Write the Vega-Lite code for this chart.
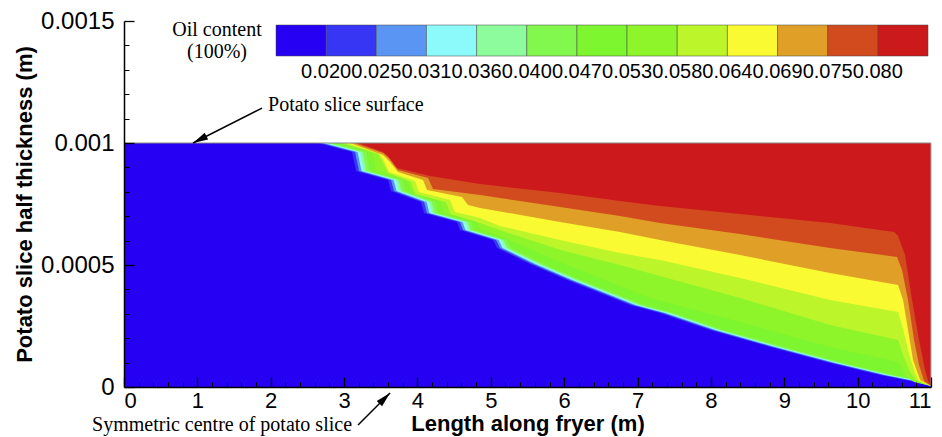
{
  "$schema": "https://vega.github.io/schema/vega-lite/v6.json",
  "width": 807,
  "height": 366,
  "autosize": {"type": "none"},
  "padding": {"left": 124, "top": 21, "right": 11, "bottom": 50},
  "background": "white",
  "config": {"view": {"stroke": null}, "axis": {"grid": false}},
  "resolve": {"axis": {"x": "independent", "y": "independent"}},
  "datasets": {
    "contours": [
      {"level": 0, "x": 0, "y": 0}, {"level": 0, "x": 11, "y": 0},
      {"level": 1, "x": 2.645, "y": 0.001}, {"level": 1, "x": 3.108, "y": 0.000963}, {"level": 1, "x": 3.163, "y": 0.000885}, {"level": 1, "x": 3.599, "y": 0.000848}, {"level": 1, "x": 3.640, "y": 0.000803}, {"level": 1, "x": 4.049, "y": 0.000758}, {"level": 1, "x": 4.089, "y": 0.000713}, {"level": 1, "x": 4.539, "y": 0.000676}, {"level": 1, "x": 4.580, "y": 0.000643}, {"level": 1, "x": 5.030, "y": 0.000602}, {"level": 1, "x": 5.085, "y": 0.000570}, {"level": 1, "x": 5.534, "y": 0.000504}, {"level": 1, "x": 6.039, "y": 0.000439}, {"level": 1, "x": 6.489, "y": 0.000385}, {"level": 1, "x": 6.898, "y": 0.000336}, {"level": 1, "x": 7.306, "y": 0.000303}, {"level": 1, "x": 7.988, "y": 0.000234}, {"level": 1, "x": 8.806, "y": 0.000164}, {"level": 1, "x": 9.624, "y": 0.000098}, {"level": 1, "x": 10.305, "y": 0.000049}, {"level": 1, "x": 10.714, "y": 0.000025}, {"level": 1, "x": 11, "y": 0.000004},
      {"level": 2, "x": 2.686, "y": 0.001}, {"level": 2, "x": 3.149, "y": 0.000963}, {"level": 2, "x": 3.204, "y": 0.000885}, {"level": 2, "x": 3.640, "y": 0.000848}, {"level": 2, "x": 3.681, "y": 0.000803}, {"level": 2, "x": 4.090, "y": 0.000758}, {"level": 2, "x": 4.130, "y": 0.000713}, {"level": 2, "x": 4.580, "y": 0.000676}, {"level": 2, "x": 4.621, "y": 0.000643}, {"level": 2, "x": 5.071, "y": 0.000602}, {"level": 2, "x": 5.126, "y": 0.000570}, {"level": 2, "x": 5.575, "y": 0.000504}, {"level": 2, "x": 6.080, "y": 0.000439}, {"level": 2, "x": 6.530, "y": 0.000385}, {"level": 2, "x": 6.939, "y": 0.000336}, {"level": 2, "x": 7.347, "y": 0.000303}, {"level": 2, "x": 8.029, "y": 0.000234}, {"level": 2, "x": 8.847, "y": 0.000164}, {"level": 2, "x": 9.665, "y": 0.000098}, {"level": 2, "x": 10.346, "y": 0.000049}, {"level": 2, "x": 10.755, "y": 0.000025}, {"level": 2, "x": 11, "y": 0.000004},
      {"level": 3, "x": 2.720, "y": 0.001}, {"level": 3, "x": 3.183, "y": 0.000963}, {"level": 3, "x": 3.238, "y": 0.000885}, {"level": 3, "x": 3.674, "y": 0.000848}, {"level": 3, "x": 3.715, "y": 0.000803}, {"level": 3, "x": 4.124, "y": 0.000758}, {"level": 3, "x": 4.164, "y": 0.000713}, {"level": 3, "x": 4.614, "y": 0.000676}, {"level": 3, "x": 4.655, "y": 0.000643}, {"level": 3, "x": 5.105, "y": 0.000602}, {"level": 3, "x": 5.160, "y": 0.000570}, {"level": 3, "x": 5.609, "y": 0.000504}, {"level": 3, "x": 6.114, "y": 0.000439}, {"level": 3, "x": 6.564, "y": 0.000385}, {"level": 3, "x": 6.973, "y": 0.000336}, {"level": 3, "x": 7.381, "y": 0.000303}, {"level": 3, "x": 8.063, "y": 0.000234}, {"level": 3, "x": 8.881, "y": 0.000164}, {"level": 3, "x": 9.699, "y": 0.000098}, {"level": 3, "x": 10.380, "y": 0.000049}, {"level": 3, "x": 10.789, "y": 0.000025}, {"level": 3, "x": 11, "y": 0.000004},
      {"level": 4, "x": 2.754, "y": 0.001}, {"level": 4, "x": 3.217, "y": 0.000963}, {"level": 4, "x": 3.272, "y": 0.000885}, {"level": 4, "x": 3.708, "y": 0.000848}, {"level": 4, "x": 3.749, "y": 0.000803}, {"level": 4, "x": 4.158, "y": 0.000758}, {"level": 4, "x": 4.198, "y": 0.000713}, {"level": 4, "x": 4.648, "y": 0.000676}, {"level": 4, "x": 4.689, "y": 0.000643}, {"level": 4, "x": 5.139, "y": 0.000602}, {"level": 4, "x": 5.194, "y": 0.000570}, {"level": 4, "x": 5.643, "y": 0.000504}, {"level": 4, "x": 6.148, "y": 0.000439}, {"level": 4, "x": 6.598, "y": 0.000385}, {"level": 4, "x": 7.007, "y": 0.000336}, {"level": 4, "x": 7.415, "y": 0.000303}, {"level": 4, "x": 8.097, "y": 0.000234}, {"level": 4, "x": 8.915, "y": 0.000164}, {"level": 4, "x": 9.733, "y": 0.000098}, {"level": 4, "x": 10.414, "y": 0.000049}, {"level": 4, "x": 10.823, "y": 0.000025}, {"level": 4, "x": 11, "y": 0.000004},
      {"level": 5, "x": 2.788, "y": 0.001}, {"level": 5, "x": 3.251, "y": 0.000963}, {"level": 5, "x": 3.306, "y": 0.000885}, {"level": 5, "x": 3.742, "y": 0.000848}, {"level": 5, "x": 3.783, "y": 0.000803}, {"level": 5, "x": 4.192, "y": 0.000758}, {"level": 5, "x": 4.232, "y": 0.000713}, {"level": 5, "x": 4.682, "y": 0.000676}, {"level": 5, "x": 4.723, "y": 0.000643}, {"level": 5, "x": 5.173, "y": 0.000602}, {"level": 5, "x": 5.228, "y": 0.000570}, {"level": 5, "x": 5.677, "y": 0.000504}, {"level": 5, "x": 6.182, "y": 0.000439}, {"level": 5, "x": 6.632, "y": 0.000385}, {"level": 5, "x": 7.041, "y": 0.000336}, {"level": 5, "x": 7.449, "y": 0.000303}, {"level": 5, "x": 8.131, "y": 0.000234}, {"level": 5, "x": 8.949, "y": 0.000164}, {"level": 5, "x": 9.767, "y": 0.000098}, {"level": 5, "x": 10.448, "y": 0.000049}, {"level": 5, "x": 10.857, "y": 0.000025}, {"level": 5, "x": 11, "y": 0.000004},
      {"level": 6, "x": 2.836, "y": 0.001}, {"level": 6, "x": 3.299, "y": 0.000963}, {"level": 6, "x": 3.354, "y": 0.000885}, {"level": 6, "x": 3.790, "y": 0.000848}, {"level": 6, "x": 3.831, "y": 0.000803}, {"level": 6, "x": 4.240, "y": 0.000758}, {"level": 6, "x": 4.280, "y": 0.000713}, {"level": 6, "x": 4.730, "y": 0.000676}, {"level": 6, "x": 4.771, "y": 0.000643}, {"level": 6, "x": 5.221, "y": 0.000602}, {"level": 6, "x": 5.276, "y": 0.000570}, {"level": 6, "x": 5.725, "y": 0.000504}, {"level": 6, "x": 6.230, "y": 0.000439}, {"level": 6, "x": 6.680, "y": 0.000385}, {"level": 6, "x": 7.089, "y": 0.000336}, {"level": 6, "x": 7.497, "y": 0.000303}, {"level": 6, "x": 8.179, "y": 0.000234}, {"level": 6, "x": 8.997, "y": 0.000164}, {"level": 6, "x": 9.815, "y": 0.000098}, {"level": 6, "x": 10.496, "y": 0.000049}, {"level": 6, "x": 10.905, "y": 0.000025}, {"level": 6, "x": 11, "y": 0.000004},
      {"level": 7, "x": 2.917, "y": 0.001}, {"level": 7, "x": 3.381, "y": 0.000963}, {"level": 7, "x": 3.435, "y": 0.000885}, {"level": 7, "x": 3.871, "y": 0.000848}, {"level": 7, "x": 3.912, "y": 0.000803}, {"level": 7, "x": 4.321, "y": 0.000758}, {"level": 7, "x": 4.362, "y": 0.000713}, {"level": 7, "x": 4.812, "y": 0.000676}, {"level": 7, "x": 4.853, "y": 0.000648}, {"level": 7, "x": 5.125, "y": 0.000619}, {"level": 7, "x": 5.943, "y": 0.000512}, {"level": 7, "x": 7.170, "y": 0.000365}, {"level": 7, "x": 8.397, "y": 0.000266}, {"level": 7, "x": 9.624, "y": 0.000164}, {"level": 7, "x": 10.551, "y": 0.000102}, {"level": 7, "x": 10.646, "y": 0.000049}, {"level": 7, "x": 10.769, "y": 0.000021}, {"level": 7, "x": 11, "y": 0.000004},
      {"level": 8, "x": 2.972, "y": 0.001}, {"level": 8, "x": 3.462, "y": 0.000955}, {"level": 8, "x": 3.517, "y": 0.000926}, {"level": 8, "x": 3.599, "y": 0.000877}, {"level": 8, "x": 3.912, "y": 0.000840}, {"level": 8, "x": 3.967, "y": 0.000791}, {"level": 8, "x": 4.389, "y": 0.000758}, {"level": 8, "x": 4.457, "y": 0.000709}, {"level": 8, "x": 4.853, "y": 0.000672}, {"level": 8, "x": 5.125, "y": 0.000643}, {"level": 8, "x": 5.943, "y": 0.000562}, {"level": 8, "x": 6.761, "y": 0.000500}, {"level": 8, "x": 7.306, "y": 0.000455}, {"level": 8, "x": 8.397, "y": 0.000365}, {"level": 8, "x": 9.624, "y": 0.000254}, {"level": 8, "x": 10.551, "y": 0.000193}, {"level": 8, "x": 10.619, "y": 0.000131}, {"level": 8, "x": 10.714, "y": 0.000061}, {"level": 8, "x": 10.796, "y": 0.000029}, {"level": 8, "x": 11, "y": 0.000004},
      {"level": 9, "x": 3.026, "y": 0.001}, {"level": 9, "x": 3.462, "y": 0.000959}, {"level": 9, "x": 3.531, "y": 0.000934}, {"level": 9, "x": 3.612, "y": 0.000881}, {"level": 9, "x": 3.967, "y": 0.000844}, {"level": 9, "x": 4.021, "y": 0.000799}, {"level": 9, "x": 4.444, "y": 0.000766}, {"level": 9, "x": 4.512, "y": 0.000717}, {"level": 9, "x": 4.853, "y": 0.000693}, {"level": 9, "x": 5.125, "y": 0.000660}, {"level": 9, "x": 5.943, "y": 0.000602}, {"level": 9, "x": 6.761, "y": 0.000549}, {"level": 9, "x": 7.306, "y": 0.000520}, {"level": 9, "x": 8.397, "y": 0.000447}, {"level": 9, "x": 9.624, "y": 0.000357}, {"level": 9, "x": 10.551, "y": 0.000307}, {"level": 9, "x": 10.605, "y": 0.000254}, {"level": 9, "x": 10.687, "y": 0.000152}, {"level": 9, "x": 10.769, "y": 0.000070}, {"level": 9, "x": 10.837, "y": 0.000025}, {"level": 9, "x": 11, "y": 0.000004},
      {"level": 10, "x": 3.081, "y": 0.001}, {"level": 10, "x": 3.531, "y": 0.000951}, {"level": 10, "x": 3.626, "y": 0.000922}, {"level": 10, "x": 3.735, "y": 0.000881}, {"level": 10, "x": 4.076, "y": 0.000848}, {"level": 10, "x": 4.130, "y": 0.000807}, {"level": 10, "x": 4.607, "y": 0.000779}, {"level": 10, "x": 4.689, "y": 0.000746}, {"level": 10, "x": 4.853, "y": 0.000734}, {"level": 10, "x": 5.943, "y": 0.000676}, {"level": 10, "x": 6.761, "y": 0.000635}, {"level": 10, "x": 7.306, "y": 0.000602}, {"level": 10, "x": 8.397, "y": 0.000541}, {"level": 10, "x": 9.624, "y": 0.000467}, {"level": 10, "x": 10.551, "y": 0.000418}, {"level": 10, "x": 10.619, "y": 0.000357}, {"level": 10, "x": 10.687, "y": 0.000234}, {"level": 10, "x": 10.755, "y": 0.000111}, {"level": 10, "x": 10.851, "y": 0.000029}, {"level": 10, "x": 11, "y": 0.000004},
      {"level": 11, "x": 3.135, "y": 0.001}, {"level": 11, "x": 3.531, "y": 0.000959}, {"level": 11, "x": 3.612, "y": 0.000938}, {"level": 11, "x": 3.735, "y": 0.000889}, {"level": 11, "x": 4.144, "y": 0.000857}, {"level": 11, "x": 4.212, "y": 0.000811}, {"level": 11, "x": 4.853, "y": 0.000787}, {"level": 11, "x": 5.943, "y": 0.000738}, {"level": 11, "x": 6.761, "y": 0.000701}, {"level": 11, "x": 7.306, "y": 0.000672}, {"level": 11, "x": 8.397, "y": 0.000627}, {"level": 11, "x": 9.624, "y": 0.000570}, {"level": 11, "x": 10.537, "y": 0.000533}, {"level": 11, "x": 10.605, "y": 0.000480}, {"level": 11, "x": 10.687, "y": 0.000357}, {"level": 11, "x": 10.769, "y": 0.000193}, {"level": 11, "x": 10.837, "y": 0.000090}, {"level": 11, "x": 10.905, "y": 0.000025}, {"level": 11, "x": 11, "y": 0.000004},
      {"level": 12, "x": 3.190, "y": 0.001}, {"level": 12, "x": 3.531, "y": 0.000963}, {"level": 12, "x": 3.599, "y": 0.000947}, {"level": 12, "x": 3.721, "y": 0.000898}, {"level": 12, "x": 4.171, "y": 0.000865}, {"level": 12, "x": 4.853, "y": 0.000832}, {"level": 12, "x": 5.943, "y": 0.000795}, {"level": 12, "x": 6.761, "y": 0.000762}, {"level": 12, "x": 7.306, "y": 0.000742}, {"level": 12, "x": 8.397, "y": 0.000709}, {"level": 12, "x": 9.624, "y": 0.000672}, {"level": 12, "x": 10.496, "y": 0.000635}, {"level": 12, "x": 10.551, "y": 0.000619}, {"level": 12, "x": 10.646, "y": 0.000541}, {"level": 12, "x": 10.742, "y": 0.000357}, {"level": 12, "x": 10.837, "y": 0.000193}, {"level": 12, "x": 10.919, "y": 0.000070}, {"level": 12, "x": 10.960, "y": 0.000025}, {"level": 12, "x": 11, "y": 0.000004}
    ],
    "labels": [
      {"text": "Potato slice surface", "x": 1.963, "y": 0.001156},
      {"text": "Symmetric centre of potato slice", "x": 3.108, "y": -0.0001557}
    ],
    "arrows": [
      {"arrow": "surface", "x": 1.881, "y": 0.001143, "x2": 0.941, "y2": 0.001},
      {"arrow": "centre", "x": 3.19, "y": -0.0001557, "x2": 3.626, "y2": -0.0000246}
    ]
  },
  "layer": [
    {
      "data": {"name": "contours"},
      "mark": {"type": "area", "interpolate": "linear"},
      "encoding": {
        "x": {
          "field": "x", "type": "quantitative",
          "scale": {"domain": [0, 11], "nice": false, "zero": false},
          "axis": {
            "orient": "bottom",
            "values": [0,1,2,3,4,5,6,7,8,9,10,11],
            "format": "d",
            "labelOverlap": false,
            "tickSize": -10,
            "tickColor": "black", "tickWidth": 1.3,
            "domainColor": "black", "domainWidth": 1.5,
            "labelFont": "Liberation Sans", "labelFontSize": 22, "labelColor": "black", "labelPadding": 13,
            "title": "Length along fryer (m)", "titleFont": "Liberation Sans", "titleFontSize": 22,
            "titleFontWeight": "bold", "titleColor": "black", "titlePadding": 2,
            "grid": false, "zindex": 1
          }
        },
        "y": {
          "field": "y", "type": "quantitative", "stack": null,
          "scale": {"domain": [0, 0.0015], "nice": false, "zero": false},
          "axis": {
            "orient": "left",
            "values": [0, 0.0005, 0.001, 0.0015],
            "format": "~f",
            "labelOverlap": false,
            "tickSize": -10,
            "tickColor": "black", "tickWidth": 1.3,
            "domainColor": "black", "domainWidth": 1.5,
            "labelFont": "Liberation Sans", "labelFontSize": 24, "labelColor": "black", "labelPadding": 20,
            "title": "Potato slice half thickness (m)", "titleFont": "Liberation Sans", "titleFontSize": 22,
            "titleFontWeight": "bold", "titleColor": "black", "titlePadding": 4,
            "grid": false, "zindex": 1
          }
        },
        "y2": {"datum": 0.001},
        "color": {
          "field": "level", "type": "quantitative",
          "scale": {
            "type": "threshold",
            "domain": [1,2,3,4,5,6,7,8,9,10,11,12],
            "range": ["#2600f2","#3636f4","#5a95f4","#8cfafa","#8cfc9c","#82f84e","#7df52f","#8ef52b","#bdf52b","#fafa32","#e0a027","#d24b1e","#cc1a1c"]
          },
          "legend": {
            "type": "gradient", "orient": "none", "direction": "horizontal",
            "legendX": 48, "legendY": 4, "padding": 0,
            "gradientLength": 652, "gradientThickness": 31,
            "gradientStrokeColor": "#444", "gradientStrokeWidth": 0.5,
            "title": ["Oil content", "(100%)"], "titleOrient": "left",
            "titleFont": "Liberation Serif", "titleFontSize": 20, "titleFontWeight": "normal",
            "titleColor": "black", "titleLineHeight": 22, "titleAlign": "center", "titlePadding": -31,
            "labelFont": "Liberation Sans", "labelFontSize": 20, "labelColor": "black",
            "labelOverlap": false, "labelOffset": 6,
            "labelExpr": "['0.020','0.025','0.031','0.036','0.040','0.047','0.053','0.058','0.064','0.069','0.075','0.080'][datum.value - 1]"
          }
        }
      }
    },
    {
      "data": {"values": [{}]},
      "mark": {"type": "rule", "color": "#888888", "strokeWidth": 1},
      "encoding": {
        "x": {"datum": 0, "type": "quantitative", "axis": null},
        "x2": {"datum": 11},
        "y": {"datum": 0.001, "type": "quantitative", "axis": null}
      }
    },
    {
      "data": {"values": [{}]},
      "mark": {"type": "rule", "color": "#aaaaaa", "strokeWidth": 1},
      "encoding": {
        "x": {"datum": 11, "type": "quantitative", "axis": null},
        "y": {"datum": 0, "type": "quantitative", "axis": null},
        "y2": {"datum": 0.001}
      }
    },
    {
      "data": {"name": "labels"},
      "transform": [{"filter": "datum.text === 'Potato slice surface'"}],
      "mark": {"type": "text", "align": "left", "baseline": "middle", "font": "Liberation Serif", "fontSize": 20, "color": "black"},
      "encoding": {
        "x": {
          "field": "x", "type": "quantitative",
          "axis": {
            "orient": "bottom",
            "values": [0.2,0.4,0.6,0.8,1.2,1.4,1.6,1.8,2.2,2.4,2.6,2.8,3.2,3.4,3.6,3.8,4.2,4.4,4.6,4.8,5.2,5.4,5.6,5.8,6.2,6.4,6.6,6.8,7.2,7.4,7.6,7.8,8.2,8.4,8.6,8.8,9.2,9.4,9.6,9.8,10.2,10.4,10.6,10.8],
            "labels": false, "domain": false, "title": null,
            "tickSize": -5, "tickColor": "black", "tickWidth": 1,
            "grid": false, "zindex": 1
          }
        },
        "y": {
          "field": "y", "type": "quantitative",
          "axis": {
            "orient": "left",
            "values": [0.0001,0.0002,0.0003,0.0004,0.0006,0.0007,0.0008,0.0009,0.0011,0.0012,0.0013,0.0014],
            "labels": false, "domain": false, "title": null,
            "tickSize": -5, "tickColor": "black", "tickWidth": 1,
            "grid": false, "zindex": 1
          }
        },
        "text": {"field": "text"}
      }
    },
    {
      "data": {"name": "labels"},
      "transform": [{"filter": "datum.text !== 'Potato slice surface'"}],
      "mark": {"type": "text", "align": "right", "baseline": "middle", "font": "Liberation Serif", "fontSize": 20, "color": "black"},
      "encoding": {
        "x": {"field": "x", "type": "quantitative", "axis": null},
        "y": {"field": "y", "type": "quantitative", "axis": null},
        "text": {"field": "text"}
      }
    },
    {
      "data": {"name": "arrows"},
      "mark": {"type": "rule", "color": "black", "strokeWidth": 1.5},
      "encoding": {
        "x": {"field": "x", "type": "quantitative", "axis": null},
        "y": {"field": "y", "type": "quantitative", "axis": null},
        "x2": {"field": "x2"},
        "y2": {"field": "y2"}
      }
    },
    {
      "data": {"name": "arrows"},
      "transform": [{"filter": "datum.arrow === 'surface'"}],
      "mark": {"type": "point", "shape": "M0,0L-0.5,2L0.5,2Z", "filled": true, "color": "black", "opacity": 1, "size": 225, "angle": 243},
      "encoding": {
        "x": {"field": "x2", "type": "quantitative", "axis": null},
        "y": {"field": "y2", "type": "quantitative", "axis": null}
      }
    },
    {
      "data": {"name": "arrows"},
      "transform": [{"filter": "datum.arrow === 'centre'"}],
      "mark": {"type": "point", "shape": "M0,0L-0.5,2L0.5,2Z", "filled": true, "color": "black", "opacity": 1, "size": 225, "angle": 45},
      "encoding": {
        "x": {"field": "x2", "type": "quantitative", "axis": null},
        "y": {"field": "y2", "type": "quantitative", "axis": null}
      }
    }
  ]
}
